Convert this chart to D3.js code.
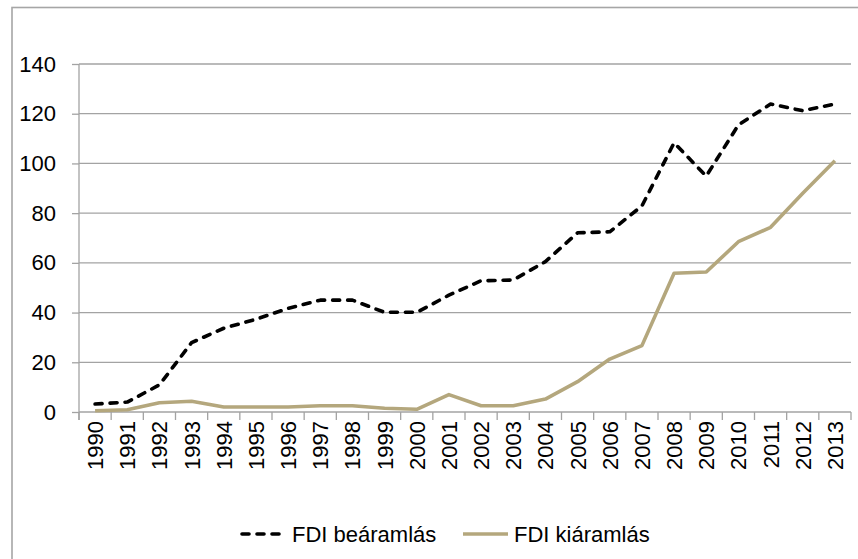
<!DOCTYPE html>
<html>
<head>
<meta charset="utf-8">
<script src="https://cdn.jsdelivr.net/npm/d3@7"></script>
<style>
  html, body { margin: 0; padding: 0; background: #fff; }
  svg { display: block; }
  text { font-family: "Liberation Sans", Arial, sans-serif; fill: #000; }
</style>
</head>
<body>
<svg id="chart" width="858" height="559"></svg>
<script>
const years = ["1990","1991","1992","1993","1994","1995","1996","1997","1998","1999","2000","2001","2002","2003","2004","2005","2006","2007","2008","2009","2010","2011","2012","2013"];
const inflow  = [3.2, 4.0, 10.9, 27.9, 33.7, 37.3, 41.7, 45.0, 45.0, 40.1, 40.1, 47.0, 52.8, 53.1, 60.5, 72.1, 72.5, 82.9, 108.3, 94.9, 115.5, 123.9, 121.2, 123.9];
const outflow = [0.5, 0.9, 3.7, 4.3, 2.0, 2.0, 2.0, 2.5, 2.5, 1.5, 1.1, 7.0, 2.5, 2.5, 5.2, 12.2, 21.3, 26.7, 55.8, 56.3, 68.5, 74.3, 88.0, 101.1];
const yTicks = [0, 20, 40, 60, 80, 100, 120, 140];
const seriesNames = ["FDI beáramlás", "FDI kiáramlás"];

const svg = d3.select("#chart");
const plotL = 79, plotR = 851, plotT = 64, plotB = 412;
const gridColor = "#a3a3a3";

// outer chart border (extends beyond right/bottom edges)
svg.append("rect")
  .attr("x", 12).attr("y", 7.5)
  .attr("width", 900).attr("height", 600)
  .attr("fill", "none").attr("stroke", "#a6a6a6").attr("stroke-width", 1.6);

const x = d3.scaleBand().domain(years).range([plotL, plotR]).padding(0);
const y = d3.scaleLinear().domain([0, 140]).range([plotB, plotT]);
const cx = d => x(d) + x.bandwidth() / 2;

// y axis with gridlines
const yAxis = svg.append("g")
  .attr("transform", `translate(${plotL},0)`)
  .call(d3.axisLeft(y).tickValues(yTicks).tickSize(7).tickPadding(16).tickFormat(d3.format("d")));
yAxis.select(".domain").remove();
yAxis.selectAll(".tick line").attr("stroke", gridColor).attr("stroke-width", 1.3);
yAxis.selectAll(".tick text").attr("font-size", 22).attr("font-family", "Liberation Sans, Arial, sans-serif").attr("fill", "#000");

svg.append("g").selectAll("line").data(yTicks).join("line")
  .attr("x1", plotL).attr("x2", plotR)
  .attr("y1", d => y(d)).attr("y2", d => y(d))
  .attr("stroke", gridColor).attr("stroke-width", 1.3);

// y axis line
svg.append("line")
  .attr("x1", plotL).attr("x2", plotL).attr("y1", plotT).attr("y2", plotB + 8)
  .attr("stroke", gridColor).attr("stroke-width", 1.3);

// x axis ticks at band boundaries
const bounds = years.map(d => x(d)).concat([plotR]);
svg.append("g").selectAll("line").data(bounds).join("line")
  .attr("x1", d => d).attr("x2", d => d)
  .attr("y1", plotB).attr("y2", plotB + 8)
  .attr("stroke", gridColor).attr("stroke-width", 1.3);

// x labels rotated
svg.append("g").selectAll("text").data(years).join("text")
  .attr("transform", d => `translate(${cx(d)},${plotB + 9}) rotate(-90)`)
  .attr("text-anchor", "end")
  .attr("dy", "0.36em")
  .attr("font-size", 22)
  .text(d => d);

const line = d3.line().x((d, i) => cx(years[i])).y(d => y(d));

svg.append("path")
  .datum(outflow)
  .attr("d", line)
  .attr("fill", "none")
  .attr("stroke", "#b4a77d")
  .attr("stroke-width", 3.6)
  .attr("stroke-linejoin", "round");

svg.append("path")
  .datum(inflow)
  .attr("d", line)
  .attr("fill", "none")
  .attr("stroke", "#000")
  .attr("stroke-width", 3.6)
  .attr("stroke-dasharray", "7,8")
  .attr("stroke-linecap", "round")
  .attr("stroke-linejoin", "round");

// legend
const legY = 534;
const legend = [
  { name: seriesNames[0], x1: 242, x2: 281, tx: 292, color: "#000", dash: "7,8", cap: "round" },
  { name: seriesNames[1], x1: 463, x2: 508, tx: 514, color: "#b4a77d", dash: null, cap: "butt" }
];
legend.forEach(l => {
  svg.append("line")
    .attr("x1", l.x1).attr("x2", l.x2).attr("y1", legY).attr("y2", legY)
    .attr("stroke", l.color).attr("stroke-width", 3.6)
    .attr("stroke-dasharray", l.dash)
    .attr("stroke-linecap", l.cap);
  svg.append("text")
    .attr("x", l.tx).attr("y", legY).attr("dy", "0.36em")
    .attr("font-size", 22)
    .text(l.name);
});
</script>
</body>
</html>
